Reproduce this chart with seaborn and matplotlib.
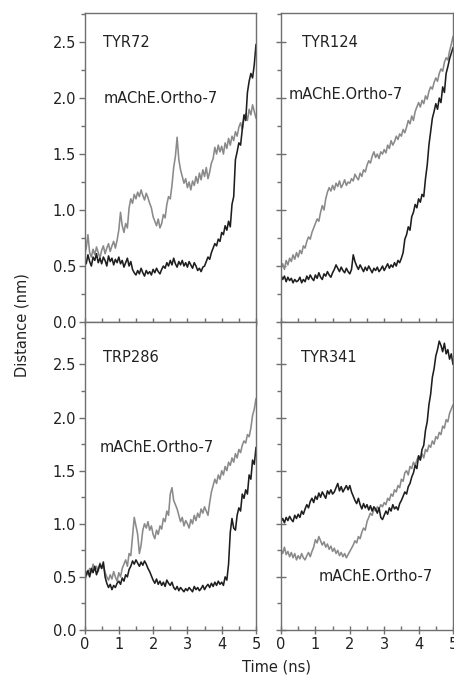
import numpy as np
import pandas as pd
import matplotlib
matplotlib.use("Agg")
import matplotlib.pyplot as plt
import seaborn as sns
from matplotlib.ticker import MultipleLocator, FormatStrFormatter

# time axis: 0 .. 5 ns in 0.05 ns steps (101 samples per trace)
time_ns = np.round(np.arange(101) * 0.05, 2)

# --- TYR72 ---
tyr72_black = [
    0.57, 0.52, 0.60, 0.54, 0.50, 0.58, 0.55, 0.61, 0.53, 0.57,
    0.52, 0.58, 0.55, 0.50, 0.59, 0.54, 0.57, 0.51, 0.56, 0.53,
    0.58, 0.52, 0.55, 0.49, 0.53, 0.57, 0.50, 0.54, 0.47, 0.44,
    0.42, 0.46, 0.43, 0.48, 0.44, 0.41, 0.46, 0.43, 0.45, 0.42,
    0.47, 0.44, 0.48, 0.45, 0.43, 0.47, 0.50, 0.48, 0.53, 0.50,
    0.55, 0.51, 0.57, 0.52, 0.49, 0.54, 0.51, 0.55, 0.50, 0.53,
    0.49, 0.54, 0.51, 0.48, 0.53, 0.50, 0.46, 0.48, 0.45, 0.49,
    0.50, 0.54, 0.58, 0.56, 0.62, 0.66, 0.70, 0.68, 0.74, 0.72,
    0.80, 0.78, 0.86, 0.82, 0.90, 0.85, 1.05, 1.12, 1.45, 1.52,
    1.60, 1.58, 1.72, 1.85, 1.80, 2.05, 2.15, 2.22, 2.18, 2.30,
    2.48]
tyr72_gray = [
    0.60, 0.66, 0.78, 0.62, 0.58, 0.65, 0.60, 0.67, 0.62, 0.57,
    0.64, 0.68, 0.61, 0.66, 0.70, 0.63, 0.68, 0.72, 0.66, 0.73,
    0.82, 0.98, 0.86, 0.80, 0.88, 0.84, 1.02, 1.10, 1.06, 1.14,
    1.10, 1.16, 1.12, 1.18, 1.13, 1.09, 1.15, 1.11, 1.06, 1.02,
    0.94, 0.90, 0.86, 0.92, 0.84, 0.88, 0.96, 0.93, 1.05, 1.12,
    1.10, 1.22, 1.38, 1.48, 1.65, 1.45, 1.36, 1.30, 1.24, 1.28,
    1.20, 1.25, 1.18, 1.26, 1.22, 1.30, 1.24, 1.33, 1.27, 1.36,
    1.30, 1.38, 1.28, 1.34, 1.42, 1.46, 1.56, 1.50, 1.58, 1.52,
    1.57, 1.50, 1.60, 1.55, 1.64, 1.58, 1.66, 1.62, 1.70, 1.66,
    1.74, 1.78, 1.72, 1.82, 1.86, 1.80, 1.90, 1.85, 1.94, 1.88,
    1.82]

# --- TYR124 ---
tyr124_black = [
    0.42, 0.38, 0.41, 0.36, 0.40, 0.37, 0.39, 0.35, 0.38, 0.36,
    0.37, 0.40, 0.35, 0.38, 0.36, 0.41, 0.38, 0.42, 0.39, 0.37,
    0.42, 0.39, 0.44, 0.40, 0.38, 0.43, 0.41, 0.45, 0.42, 0.40,
    0.44, 0.47, 0.51, 0.48, 0.45, 0.49, 0.46, 0.44, 0.48, 0.45,
    0.43, 0.47, 0.60, 0.54, 0.50, 0.47, 0.51, 0.48, 0.45, 0.49,
    0.46, 0.50, 0.47, 0.44, 0.48, 0.46, 0.49, 0.45, 0.47, 0.50,
    0.46, 0.49, 0.52, 0.48, 0.51, 0.49, 0.53, 0.50, 0.55, 0.53,
    0.57, 0.62, 0.74, 0.78, 0.85, 0.82, 0.94, 0.98, 1.05, 1.02,
    1.10, 1.07, 1.14, 1.12, 1.28, 1.40, 1.58, 1.70, 1.82, 1.88,
    1.95, 1.90, 2.00, 1.96, 2.10, 2.05, 2.22, 2.28, 2.35, 2.40,
    2.45]
tyr124_gray = [
    0.48, 0.52, 0.47, 0.55, 0.51, 0.57, 0.54, 0.60, 0.56, 0.62,
    0.58, 0.64, 0.61, 0.68, 0.66, 0.72, 0.76, 0.74, 0.80, 0.84,
    0.88, 0.92, 0.90, 0.98, 1.04, 1.00, 1.10, 1.16, 1.20, 1.17,
    1.22, 1.18, 1.24, 1.21, 1.26, 1.20, 1.23, 1.27, 1.22, 1.25,
    1.24, 1.28, 1.26, 1.32, 1.29, 1.27, 1.33, 1.30, 1.36, 1.34,
    1.40, 1.44, 1.42, 1.48, 1.52, 1.47, 1.50, 1.46, 1.52, 1.50,
    1.54, 1.51, 1.58, 1.55, 1.62, 1.58, 1.61, 1.66, 1.63, 1.68,
    1.66, 1.72, 1.69, 1.74, 1.80, 1.77, 1.84, 1.80, 1.88, 1.92,
    1.96, 1.92, 1.98, 1.95, 2.02, 1.99, 2.06, 2.10, 2.08, 2.14,
    2.18, 2.15, 2.22, 2.26, 2.24, 2.32, 2.36, 2.34, 2.42, 2.48,
    2.55]

# --- TRP286 ---
trp286_black = [
    0.45, 0.52, 0.56, 0.50, 0.58, 0.54, 0.60, 0.52, 0.57, 0.62,
    0.58, 0.64, 0.50, 0.44, 0.40, 0.43, 0.38, 0.42, 0.40, 0.44,
    0.46, 0.43, 0.49, 0.46, 0.52, 0.50, 0.57, 0.60, 0.65, 0.62,
    0.66, 0.63, 0.60, 0.64, 0.61, 0.65, 0.62, 0.58, 0.55, 0.51,
    0.47, 0.44, 0.48, 0.43, 0.46, 0.42, 0.45, 0.41, 0.47, 0.44,
    0.42, 0.45, 0.40, 0.38, 0.41, 0.37, 0.40, 0.38, 0.36, 0.39,
    0.37, 0.40, 0.38, 0.36, 0.41, 0.38, 0.40, 0.37, 0.39, 0.42,
    0.38, 0.41, 0.43, 0.40, 0.44, 0.41, 0.45, 0.42, 0.46, 0.43,
    0.45, 0.42, 0.50, 0.47, 0.62, 0.92, 1.05, 0.96, 0.94, 1.08,
    1.15, 1.12, 1.28, 1.24, 1.32, 1.28, 1.46, 1.42, 1.60, 1.56,
    1.72]
trp286_gray = [
    0.48, 0.55, 0.52, 0.58, 0.54, 0.62, 0.56, 0.60, 0.55, 0.63,
    0.58, 0.61, 0.54, 0.50, 0.47, 0.52, 0.48, 0.55, 0.50, 0.46,
    0.54, 0.50, 0.58, 0.62, 0.66, 0.60, 0.72, 0.70, 0.88, 1.06,
    0.98, 0.90, 0.72, 0.80, 0.94, 1.00, 0.96, 1.02, 0.94, 0.98,
    0.90, 0.86, 0.94, 0.90, 0.98, 0.95, 1.05, 1.02, 1.12, 1.08,
    1.28, 1.34, 1.22, 1.18, 1.14, 1.08, 1.02, 1.06, 0.98, 1.03,
    1.00, 0.96, 1.04, 1.00, 1.08, 1.03, 1.10, 1.06, 1.14, 1.10,
    1.16, 1.12, 1.08, 1.20, 1.30, 1.36, 1.42, 1.38, 1.46, 1.42,
    1.50, 1.46, 1.54, 1.50, 1.58, 1.55, 1.62, 1.58, 1.66, 1.62,
    1.70, 1.67, 1.74, 1.78, 1.76, 1.84, 1.82, 1.90, 2.02, 2.08,
    2.18]

# --- TYR341 ---
tyr341_black = [
    1.02, 1.05, 1.01, 1.06, 1.03, 1.07, 1.04, 1.02, 1.08, 1.05,
    1.09, 1.06, 1.12, 1.09, 1.14, 1.18, 1.15, 1.21, 1.24, 1.20,
    1.26, 1.23, 1.29, 1.25, 1.30, 1.27, 1.24, 1.31, 1.28, 1.32,
    1.28, 1.30, 1.34, 1.38, 1.31, 1.35, 1.30, 1.33, 1.36, 1.32,
    1.36, 1.30, 1.26, 1.22, 1.19, 1.24, 1.18, 1.14, 1.19, 1.15,
    1.18, 1.13, 1.17, 1.12, 1.16, 1.14, 1.10, 1.15, 1.06, 1.04,
    1.08, 1.12, 1.09, 1.15, 1.12, 1.18, 1.14, 1.16, 1.13, 1.19,
    1.22, 1.26, 1.30, 1.28, 1.35, 1.38, 1.44, 1.48, 1.55, 1.52,
    1.64, 1.60, 1.70, 1.74, 1.88, 1.96, 2.12, 2.22, 2.38, 2.46,
    2.58, 2.64, 2.72, 2.68, 2.62, 2.70, 2.60, 2.64, 2.55, 2.60,
    2.50]
tyr341_gray = [
    0.76, 0.72, 0.78, 0.71, 0.74, 0.69, 0.73, 0.68, 0.72, 0.66,
    0.70, 0.67, 0.72, 0.68, 0.66, 0.70, 0.73, 0.69, 0.74, 0.78,
    0.85, 0.82, 0.88, 0.84, 0.80, 0.83, 0.78, 0.81, 0.76, 0.79,
    0.74, 0.77, 0.72, 0.75, 0.70, 0.73, 0.69, 0.72, 0.68, 0.71,
    0.74, 0.77, 0.80, 0.84, 0.82, 0.88, 0.86, 0.92, 0.96, 0.94,
    1.02, 1.06, 1.10, 1.08, 1.14, 1.12, 1.16, 1.14, 1.18, 1.16,
    1.20, 1.18, 1.24, 1.22, 1.28, 1.26, 1.32, 1.30, 1.36, 1.34,
    1.42, 1.40, 1.48, 1.50, 1.46, 1.54, 1.52, 1.58, 1.55, 1.60,
    1.64, 1.60, 1.66, 1.62, 1.70, 1.68, 1.74, 1.72, 1.78, 1.75,
    1.82, 1.80, 1.86, 1.84, 1.92, 1.90, 1.98, 1.96, 2.04, 2.08,
    2.12]

residues = ["TYR72", "TYR124", "TRP286", "TYR341"]
black_traces = [tyr72_black, tyr124_black, trp286_black, tyr341_black]
gray_traces = [tyr72_gray, tyr124_gray, trp286_gray, tyr341_gray]
complex_label = "mAChE.Ortho-7"

# label positions in data units (x, y) for residue name and complex name
name_pos = [(0.55, 2.5), (0.6, 2.5), (0.55, 2.57), (0.58, 2.57)]
complex_pos = [(0.55, 2.0), (0.22, 2.03), (0.45, 1.72), (1.08, 0.5)]
y_tops = [2.76, 2.76, 2.9, 2.9]

rows = []
for res, blk, gry in zip(residues, black_traces, gray_traces):
    for t, v in zip(time_ns, blk):
        rows.append((res, "black", t, v))
    for t, v in zip(time_ns, gry):
        rows.append((res, "gray", t, v))
df = pd.DataFrame(rows, columns=["residue", "trace", "time", "dist"])

sns.set_style("ticks")
plt.rcParams['font.family'] = ['DejaVu Sans']

fig = plt.figure(figsize=(4.54, 6.82), dpi=100)
W, H = 454, 682
# axes boxes in pixels (left, top, right, bottom)
boxes = [(84.5, 13, 256, 322), (281, 13, 453, 322),
         (84.5, 322, 256, 630), (281, 322, 453, 630)]

palette = {"black": "#1e1e1e", "gray": "#8a8a8a"}
spine_col = "#6f6f6f"

for i, (res, box) in enumerate(zip(residues, boxes)):
    l, t, r, b = box
    ax = fig.add_axes([l / W, 1 - b / H, (r - l) / W, (b - t) / H])
    sub = df[df.residue == res]
    sns.lineplot(data=sub, x="time", y="dist", hue="trace", palette=palette,
                 hue_order=["gray", "black"], lw=1.15, legend=False, ax=ax)
    ax.set_xlim(0, 5)
    ax.set_ylim(0, y_tops[i])
    ax.xaxis.set_major_locator(MultipleLocator(1))
    ax.xaxis.set_minor_locator(MultipleLocator(0.5))
    ax.yaxis.set_major_locator(MultipleLocator(0.5))
    ax.yaxis.set_minor_locator(MultipleLocator(0.25))
    ax.yaxis.set_major_formatter(FormatStrFormatter("%.1f"))
    ax.tick_params(which="major", direction="inout", length=6, width=1,
                   color=spine_col, labelsize=10.5, labelcolor="#222222", pad=2)
    ax.tick_params(which="minor", direction="in", length=3, width=1,
                   color=spine_col)
    ax.tick_params(axis="y", which="major", direction="out", length=4)
    ax.tick_params(axis="y", which="minor", direction="out", length=3)
    for s in ax.spines.values():
        s.set_color(spine_col)
        s.set_linewidth(1)
    if i in (1, 3):
        ax.set_yticklabels([])
        ax.tick_params(axis="y", which="major", direction="inout", length=7)
    if i in (0, 1):
        ax.set_xticklabels([])
    ax.set_xlabel("")
    ax.set_ylabel("")
    ax.text(name_pos[i][0], name_pos[i][1], res, ha="left", va="center",
            fontsize=10.5, color="#222222")
    ax.text(complex_pos[i][0], complex_pos[i][1], complex_label, ha="left",
            va="center", fontsize=10.5, color="#222222")

fig.text(22 / W, 1 - 325 / H, "Distance (nm)", rotation=90, ha="center",
         va="center", fontsize=10.5, color="#222222")
fig.text(276 / W, 1 - 667 / H, "Time (ns)", ha="center", va="center",
         fontsize=10.5, color="#222222")

fig.savefig("out.png", dpi=100, facecolor="white")
